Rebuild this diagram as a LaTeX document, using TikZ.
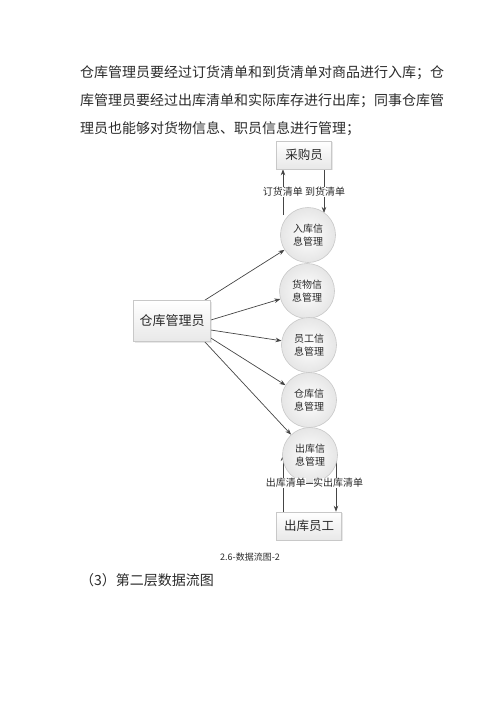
\documentclass[tikz,border=0pt]{standalone}
\usepackage{fontspec}
\setmainfont{Noto Sans CJK SC}
\newfontfamily\cjk{Noto Sans CJK SC}
\usetikzlibrary{arrows.meta,shadows,calc,backgrounds}
\definecolor{txt}{HTML}{2A2A2A}
\definecolor{ln}{HTML}{454545}
\definecolor{bd}{HTML}{C8C8C8}
\tikzset{
  body/.style={anchor=west,inner sep=0pt,font=\fontsize{14}{14}\selectfont\cjk,text=txt},
  boxnode/.style={draw=bd,line width=0.6pt,top color=white,bottom color=black!9,
    drop shadow={opacity=0.18,shadow xshift=1.2pt,shadow yshift=-1.2pt},
    minimum height=28pt,inner sep=0pt,font=\fontsize{12.5}{12.5}\selectfont\cjk,text=txt},
  proc/.style={circle,draw=bd,line width=0.6pt,inner color=white,outer color=black!10,
    minimum size=55pt,inner sep=0pt,align=center,
    font=\fontsize{10}{13}\selectfont\cjk,text=txt},
  arr/.style={draw=ln,line width=0.7pt,-{Stealth[length=6pt,width=4.5pt]}},
  lbl/.style={inner sep=0pt,fill=white,font=\fontsize{10}{10}\selectfont\cjk,text=txt},
}
\begin{document}
\begin{tikzpicture}[x=1pt,y=-1pt]
\useasboundingbox (0,0) rectangle (500,707);
% paragraph
\node[body] (p1) at (80,73) {仓库管理员要经过订货清单和到货清单对商品进行入库；仓};
\node[body] (p2) at (80,101) {库管理员要经过出库清单和实际库存进行出库；同事仓库管};
\node[body] (p3) at (80,129) {理员也能够对货物信息、职员信息进行管理；};
% nodes
\node[boxnode,minimum width=55pt] (b) at (304,155) {采购员};
\node[boxnode,minimum width=77pt,minimum height=41pt,font=\fontsize{13}{13}\selectfont\cjk] (m) at (172,321) {仓库管理员};
\node[boxnode,minimum width=65pt] (w) at (309,526) {出库员工};
\node[proc] (c1) at (308,235) {入库信\\息管理};
\node[proc] (c2) at (307,291) {货物信\\息管理};
\node[proc] (c3) at (309,345) {员工信\\息管理};
\node[proc] (c4) at (309,400) {仓库信\\息管理};
\node[proc] (c5) at (310,455) {出库信\\息管理};
% labels
\node[lbl] (l1) at (304,192) {订货清单 到货清单};
\node[lbl,anchor=east] (l2) at (306,483) {出库清单};
\node[lbl,anchor=west] (l3) at (313,483) {实出库清单};
\draw[ln,line width=0.6pt] (l2.east) -- (l3.west);
\node[inner sep=0pt,font=\fontsize{9}{9}\selectfont\cjk,text=txt] (cap) at (250,557) {2.6-数据流图-2};
\node[body] (h3) at (80,580) {（3）第二层数据流图};
% connectors
\begin{scope}[on background layer]
\draw[arr] ($(c1.center)+(-25,-20)$) -- ([xshift=-21pt]b.south);
\draw[arr] ([xshift=20pt]b.south) -- ($(c1.center)+(16,-22)$);
\draw[arr] ([xshift=-6pt]m.north east) -- (c1);
\draw[arr] ([yshift=1pt]m.east) -- (c2);
\draw[arr] ([yshift=-9pt]m.east) -- (c3);
\draw[arr] ([yshift=-17pt]m.east) -- (c4);
\draw[arr] ([xshift=-6pt]m.south east) -- (c5);
\draw[arr] ([xshift=-26pt]w.north) -- ($(c5.center)+(-27,0)$);
\draw[arr] ($(c5.center)+(26,0)$) -- ([xshift=27pt]w.north);
\end{scope}
\end{tikzpicture}
\end{document}
